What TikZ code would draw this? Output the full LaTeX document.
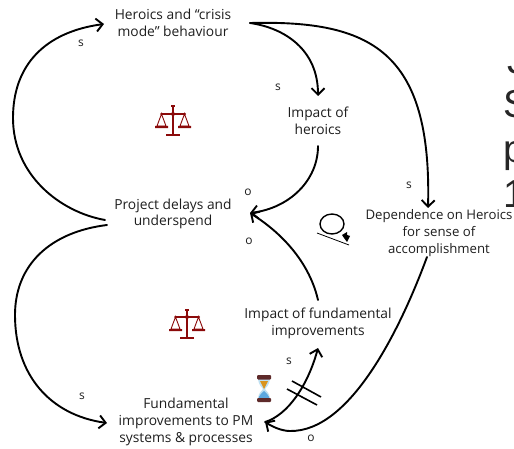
\documentclass[tikz,border=0pt]{standalone}
\usepackage{fontspec}
\setmainfont{Open Sans}
\newfontfamily\arialfont{Liberation Sans}
\usetikzlibrary{arrows.meta,calc}
\definecolor{inkc}{HTML}{1E1E1E}
\definecolor{scalered}{HTML}{8B0A0A}
\definecolor{capbrown}{HTML}{5E2A2A}
\definecolor{glasslight}{HTML}{BFE0F2}
\definecolor{glassblue}{HTML}{5CA8E0}
\definecolor{sandc}{HTML}{D9941E}
\tikzset{
  lab/.style={align=center,text=inkc,font=\fontsize{13.8}{16.8}\selectfont,inner sep=0pt},
  pol/.style={text=inkc,font=\fontsize{12}{13}\selectfont,inner sep=0pt},
  link/.style={line width=1.9pt,black,line cap=round,-{Straight Barb[length=6.5pt,width=13pt,line width=1.9pt]}},
  big/.style={font=\arialfont\fontsize{39}{45}\selectfont,text=black!85,inner sep=0pt,anchor=base west},
  balance/.pic={
    \fill[scalered] (-1.2,-15) rectangle (1.2,13);
    \fill[scalered] (-7,13) rectangle (7,15);
    \fill[scalered] (-2,-15.5) rectangle (2,-13.5);
    \fill[scalered] (-12,-8) rectangle (12,-6.2);
    \draw[scalered,line width=.9pt] (-11.5,-7) -- (-16,5) -- (-7,5) -- cycle;
    \draw[scalered,line width=.9pt] (11.5,-7) -- (16,5) -- (7,5) -- cycle;
    \fill[scalered] (-18,5) rectangle (-5,7.2) (5,5) rectangle (18,7.2);
    \fill[scalered] (-11.5,-7) circle (1.5) (11.5,-7) circle (1.5) (0,-7) circle (2);
  }
}
\begin{document}
\begin{tikzpicture}[x=1pt,y=-1pt]
\useasboundingbox (0,0) rectangle (514,449);
\clip (0,0) rectangle (514,449);
\node[lab] (heroics) at (173,23) {Heroics and ``crisis\\mode'' behaviour};
\node[lab] (impacth) at (318,121) {Impact of\\heroics};
\node[lab] (delays) at (173,214) {Project delays and\\underspend};
\node[lab,font=\fontsize{13.2}{16.8}\selectfont] (depend) at (439,233) {Dependence on Heroics\\for sense of\\accomplishment};
\node[lab] (impactf) at (318,323) {Impact of fundamental\\improvements};
\node[lab] (fund) at (186,422) {Fundamental\\improvements to PM\\systems \& processes};

\draw[link] ([shift={(-68,6)}]delays.center) .. controls (60,212) and (13,175) .. (13,118) .. controls (13,65) and (45,32) .. ([shift={(-69,1)}]heroics.center);
\draw[link] ([shift={(-66,11)}]delays.center) .. controls (50,232) and (15,265) .. (15,315) .. controls (15,375) and (50,415) .. ([shift={(-79,1)}]fund.center);
\draw[link] ([shift={(77,0)}]heroics.center) .. controls (285,28) and (318,50) .. ([shift={(0,-25)}]impacth.center);
\draw[link] ([shift={(77,0)}]heroics.center) .. controls (370,20) and (432,50) .. ([shift={(-11,-25)}]depend.center);
\draw[link] ([shift={(0,25)}]impacth.center) .. controls (318,180) and (290,208) .. ([shift={(77,-1)}]delays.center);
\draw[link] ([shift={(0,-23)}]impactf.center) .. controls (310,265) and (285,235) .. ([shift={(77,-1)}]delays.center);
\draw[link] ([shift={(79,0)}]fund.center) .. controls (288,415) and (308,385) .. ([shift={(0,25)}]impactf.center);
\draw[link] ([shift={(-12,24)}]depend.center) .. controls (400,330) and (350,432) .. (290,431) .. controls (282,431) and (273,427) .. ([shift={(79,0)}]fund.center);

\draw[line width=1.6pt,black] (292,381) -- (321,397);
\draw[line width=1.6pt,black] (287,389) -- (317,405);

\node[pol] (s1) at (81,43) {s};
\node[pol] (s2) at (278,87) {s};
\node[pol] (s3) at (409,185) {s};
\node[pol] (s4) at (289,361) {s};
\node[pol] (s5) at (82,396) {s};
\node[pol] (o1) at (248,192) {o};
\node[pol] (o2) at (249,241) {o};
\node[pol] (o3) at (311,438) {o};

\pic at (173,121) {balance};
\pic at (187,324) {balance};

% snowball icon
\draw[line width=1.4pt,black] (332,224) ellipse [x radius=12,y radius=10];
\draw[line width=.8pt,black] (317,233) -- (349,245);
\fill[black] (342,235) -- (347,232) -- (347,235) -- (350,236) -- (347,242) -- (344,238) -- cycle;

% hourglass icon
\fill[glasslight] (258,378) .. controls (258.5,386) and (262,387) .. (263,389) .. controls (262,391) and (258,393) .. (258,399) -- (270,399) .. controls (270,393) and (266,391) .. (265,389) .. controls (266,387) and (269.5,386) .. (270,378) -- cycle;
\fill[sandc] (260,381) -- (268,381) -- (264,389) -- cycle;
\fill[glassblue] (264,391) .. controls (262,393) and (259,395) .. (258.5,399) -- (269.5,399) .. controls (269,395) and (266,393) .. (264,391) -- cycle;
\fill[capbrown,rounded corners=1pt] (257,375) rectangle (271,379.5);
\fill[capbrown,rounded corners=1pt] (257,398) rectangle (271,402);

% cut-off slide text at the right edge
\node[big] (t1) at (507,74) {J};
\node[big] (t2) at (503,118) {S};
\node[big] (t3) at (503,163) {p};
\node[big] (t4) at (503,208) {1};
\end{tikzpicture}
\end{document}
